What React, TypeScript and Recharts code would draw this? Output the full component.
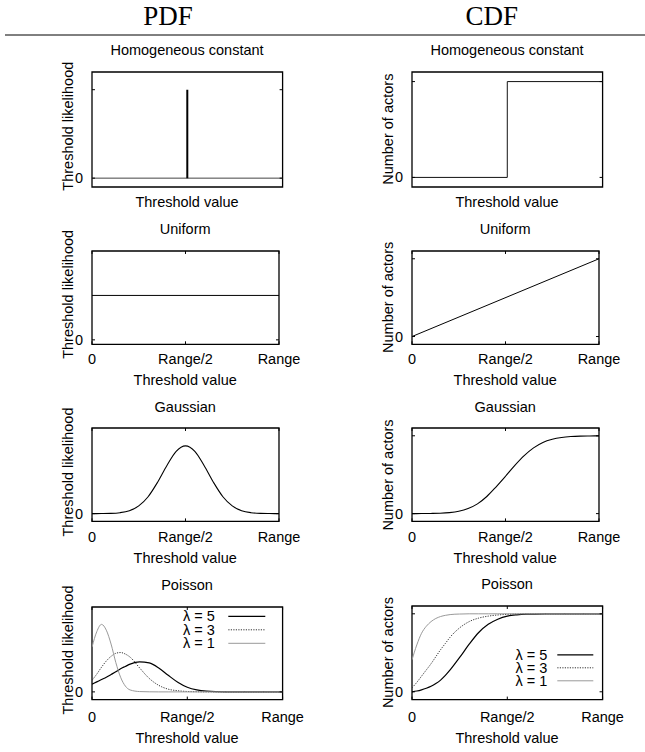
import React from 'react';
import { LineChart, Line, XAxis, YAxis, ReferenceArea, Legend } from 'recharts';

// ---------- data ----------
const stepX = [0, 0.5, 0.5, 1];
const homogCdf = [0, 0, 1, 1];
const spikeX = [0.5, 0.5];
const spikeY = [0, 1];
const baseX = [0, 1];
const baseY = [0, 0];

const uniformX = [0, 1];
const uniformPdf = [1, 1];
const uniformCdf = [0, 1];

const gridX = [0, 0.05, 0.1, 0.15, 0.2, 0.25, 0.3, 0.35, 0.4, 0.45, 0.5, 0.55, 0.6, 0.65, 0.7, 0.75, 0.8, 0.85, 0.9, 0.95, 1];
const gaussPdf = [0, 0.001, 0.003, 0.012, 0.038, 0.099, 0.217, 0.4, 0.615, 0.8, 0.87, 0.8, 0.615, 0.4, 0.217, 0.099, 0.038, 0.012, 0.003, 0.001, 0];
const gaussCdf = [0, 0.0005, 0.002, 0.005, 0.013, 0.03, 0.065, 0.125, 0.22, 0.345, 0.48, 0.62, 0.745, 0.845, 0.915, 0.955, 0.978, 0.99, 0.996, 0.998, 0.999];

const poissonX = [0, 0.025, 0.05, 0.075, 0.1, 0.125, 0.15, 0.175, 0.2, 0.25, 0.3, 0.35, 0.4, 0.45, 0.5, 0.55, 0.6, 0.7, 0.8, 0.9, 1];
const poissonPdf5 = [0.1, 0.13, 0.16, 0.19, 0.225, 0.26, 0.3, 0.33, 0.36, 0.39, 0.375, 0.31, 0.215, 0.125, 0.06, 0.025, 0.01, 0.001, 0, 0, 0];
const poissonPdf3 = [0.15, 0.23, 0.32, 0.4, 0.46, 0.5, 0.51, 0.49, 0.45, 0.31, 0.175, 0.085, 0.035, 0.015, 0.005, 0.002, 0, 0, 0, 0, 0];
const poissonPdf1 = [0.58, 0.78, 0.875, 0.8, 0.62, 0.38, 0.19, 0.075, 0.025, 0.004, 0.001, 0, 0, 0, 0, 0, 0, 0, 0, 0, 0];
const poissonCdf5 = [0, 0.01, 0.025, 0.045, 0.07, 0.105, 0.15, 0.21, 0.28, 0.44, 0.61, 0.76, 0.865, 0.93, 0.97, 0.987, 0.995, 0.999, 1, 1, 1];
const poissonCdf3 = [0.05, 0.12, 0.2, 0.28, 0.36, 0.45, 0.54, 0.62, 0.7, 0.82, 0.9, 0.945, 0.97, 0.985, 0.993, 0.997, 1, 1, 1, 1, 1];
const poissonCdf1 = [0.41, 0.6, 0.75, 0.84, 0.9, 0.94, 0.965, 0.98, 0.99, 0.997, 1, 1, 1, 1, 1, 1, 1, 1, 1, 1, 1];

const lambdaNames = ['λ = 5', 'λ = 3', 'λ = 1'];
const xTickValues = [0, 0.5, 1];
const xTickLabels = ['0', 'Range/2', 'Range'];
const headers = ['PDF', 'CDF'];
const titles = ['Homogeneous constant', 'Uniform', 'Gaussian', 'Poisson'];
const yTitles = ['Threshold likelihood', 'Number of actors'];
const xTitle = 'Threshold value';

const zip = (xs: number[], ys: number[]) => xs.map((x, i) => ({ x, y: ys[i] }));

// ---------- styles / layout ----------
const SANS = '"Liberation Sans", Arial, Helvetica, sans-serif';
const SERIF = '"Liberation Serif", "Times New Roman", serif';
const FS = 14.5;
const ML = 40, MT = 12, MR = 36, MB = 40;

type Series = { name?: string; data: { x: number; y: number }[]; stroke: string; width: number; dash?: string; curve: 'monotone' | 'linear' };
type LegendCfg = { textRight: number; lineX1: number; lineX2: number; rows: number[] };
type PanelCfg = {
  title: string; yTitle: string; left: number; top: number; w: number; h: number;
  yDomain: [number, number]; yTicks: number[]; xTicks: boolean;
  tickDy: number; titleDy: number; yTitleShift: number; yTitleX: number;
  series: Series[]; legend?: LegendCfg;
};

const solid5 = { stroke: '#000', width: 1.2, dash: undefined as string | undefined };
const dot3 = { stroke: '#333', width: 1, dash: '1.2 1.3' };
const gray1 = { stroke: '#999', width: 1, dash: undefined as string | undefined };
const lambdaStyles = [solid5, dot3, gray1];

const colL = 91.7, colR = 411.7;

const panels: PanelCfg[] = [
  {
    title: titles[0], yTitle: yTitles[0], left: colL, top: 71.7, w: 190.6, h: 115,
    yDomain: [-0.1, 1.2], yTicks: [0, 1], xTicks: false, tickDy: 0, titleDy: 20, yTitleShift: -3, yTitleX: 68.3,
    series: [
      { data: zip(baseX, baseY), stroke: '#444', width: 1, curve: 'linear' },
      { data: zip(spikeX, spikeY), stroke: '#000', width: 2, curve: 'linear' },
    ],
  },
  {
    title: titles[0], yTitle: yTitles[1], left: colR, top: 71.7, w: 190.6, h: 115,
    yDomain: [-0.1, 1.1], yTicks: [0, 1], xTicks: false, tickDy: 0, titleDy: 20, yTitleShift: 0, yTitleX: 388.3,
    series: [{ data: zip(stepX, homogCdf), stroke: '#111', width: 1, curve: 'linear' }],
  },
  {
    title: titles[1], yTitle: yTitles[0], left: colL, top: 250.7, w: 187, h: 93.3,
    yDomain: [-0.1, 2], yTicks: [0], xTicks: true, tickDy: 19.5, titleDy: 41, yTitleShift: -3, yTitleX: 68.3,
    series: [{ data: zip(uniformX, uniformPdf), stroke: '#000', width: 1, curve: 'linear' }],
  },
  {
    title: titles[1], yTitle: yTitles[1], left: colR, top: 250.7, w: 187, h: 93.3,
    yDomain: [-0.1, 1.1], yTicks: [0, 1], xTicks: true, tickDy: 19.5, titleDy: 41, yTitleShift: 0, yTitleX: 388.3,
    series: [{ data: zip(uniformX, uniformCdf), stroke: '#000', width: 1, curve: 'linear' }],
  },
  {
    title: titles[2], yTitle: yTitles[0], left: colL, top: 428.3, w: 187, h: 93.4,
    yDomain: [-0.1, 1.1], yTicks: [0], xTicks: true, tickDy: 20.5, titleDy: 41.5, yTitleShift: -3, yTitleX: 68.3,
    series: [{ data: zip(gridX, gaussPdf), stroke: '#000', width: 1.1, curve: 'monotone' }],
  },
  {
    title: titles[2], yTitle: yTitles[1], left: colR, top: 428.3, w: 187, h: 93.4,
    yDomain: [-0.1, 1.1], yTicks: [0, 1], xTicks: true, tickDy: 20.5, titleDy: 41.5, yTitleShift: 0, yTitleX: 388.3,
    series: [{ data: zip(gridX, gaussCdf), stroke: '#000', width: 1.1, curve: 'monotone' }],
  },
  {
    title: titles[3], yTitle: yTitles[0], left: colL, top: 606.7, w: 190.6, h: 92.6,
    yDomain: [-0.1, 1.1], yTicks: [0], xTicks: true, tickDy: 22, titleDy: 43.5, yTitleShift: -3, yTitleX: 68.3,
    series: [poissonPdf5, poissonPdf3, poissonPdf1].map((ys, i) => ({
      name: lambdaNames[i], data: zip(poissonX, ys), stroke: lambdaStyles[i].stroke, width: lambdaStyles[i].width, dash: lambdaStyles[i].dash, curve: 'monotone' as const,
    })),
    legend: { textRight: 122.8, lineX1: 136.3, lineX2: 173.3, rows: [9.3, 22.8, 36.3] },
  },
  {
    title: titles[3], yTitle: yTitles[1], left: colR, top: 605.7, w: 190.6, h: 93.6,
    yDomain: [-0.1, 1.1], yTicks: [0, 1], xTicks: true, tickDy: 22, titleDy: 43.5, yTitleShift: 0, yTitleX: 388.3,
    series: [poissonCdf5, poissonCdf3, poissonCdf1].map((ys, i) => ({
      name: lambdaNames[i], data: zip(poissonX, ys), stroke: lambdaStyles[i].stroke, width: lambdaStyles[i].width, dash: lambdaStyles[i].dash, curve: 'monotone' as const,
    })),
    legend: { textRight: 135.3, lineX1: 145.3, lineX2: 181.3, rows: [48.8, 61.8, 74.8] },
  },
];

const TICK = 3;

function makeYTick(plotW: number) {
  return (p: any) => {
    const { x, y, payload } = p;
    return (
      <g>
        <line x1={x} y1={y} x2={x + TICK} y2={y} stroke="#000" strokeWidth={1} />
        <line x1={x + plotW} y1={y} x2={x + plotW - TICK} y2={y} stroke="#000" strokeWidth={1} />
        {payload.value === 0 ? (
          <text x={x - 9} y={y} dy="0.35em" textAnchor="end" fontFamily={SANS} fontSize={FS} fill="#000">0</text>
        ) : null}
      </g>
    );
  };
}

function makeXTick(plotH: number, tickDy: number) {
  return (p: any) => {
    const { x, y, payload } = p;
    const idx = xTickValues.indexOf(payload.value);
    return (
      <g>
        <line x1={x} y1={y} x2={x} y2={y - TICK} stroke="#000" strokeWidth={1} />
        <line x1={x} y1={y - plotH} x2={x} y2={y - plotH + TICK} stroke="#000" strokeWidth={1} />
        <text x={x} y={y + tickDy} textAnchor="middle" fontFamily={SANS} fontSize={FS} fill="#000">{xTickLabels[idx]}</text>
      </g>
    );
  };
}

function makeLegend(p: PanelCfg, W: number, H: number) {
  const lg = p.legend as LegendCfg;
  return () => (
    <svg width={W} height={H} style={{ display: 'block' }}>
      <text textAnchor="end" fontFamily={SANS} fontSize={FS} fill="#000">
        {p.series.map((s, i) => (
          <tspan key={i} x={ML + lg.textRight} y={MT + lg.rows[i] + FS * 0.35}>{s.name}</tspan>
        ))}
      </text>
      {p.series.map((s, i) => {
        const cy = MT + lg.rows[i];
        return (
          <line key={i} x1={ML + lg.lineX1} x2={ML + lg.lineX2} y1={cy} y2={cy} stroke={s.stroke} strokeWidth={s.width} strokeDasharray={s.dash} />
        );
      })}
    </svg>
  );
}

function Panel({ p }: { p: PanelCfg }) {
  const W = p.w + ML + MR;
  const H = p.h + MT + MB;
  return (
    <div style={{ position: 'absolute', left: p.left - ML, top: p.top - MT, width: W, height: H }}>
      <LineChart width={W} height={H} margin={{ top: MT, right: MR, left: 0, bottom: 0 }}>
        <XAxis
          dataKey="x" type="number" domain={[0, 1]} allowDataOverflow ticks={xTickValues} interval={0}
          height={MB} axisLine={false} tickLine={false} tickSize={0} tickMargin={0}
          tick={p.xTicks ? makeXTick(p.h, p.tickDy) : false}
        />
        <YAxis
          type="number" domain={p.yDomain} allowDataOverflow ticks={p.yTicks} interval={0}
          width={ML} axisLine={false} tickLine={false} tickSize={0} tickMargin={0}
          tick={makeYTick(p.w)}
        />
        <ReferenceArea x1={0} x2={1} y1={p.yDomain[0]} y2={p.yDomain[1]} fill="none" fillOpacity={0} stroke="#000" strokeWidth={1.3} />
        {p.series.map((s, i) => (
          <Line
            key={i} name={s.name} data={s.data} dataKey="y" type={s.curve} stroke={s.stroke}
            strokeWidth={s.width} strokeDasharray={s.dash} dot={false} activeDot={false}
            isAnimationActive={false}
          />
        ))}
        {p.legend ? (
          <Legend
            layout="vertical" verticalAlign="middle" align="center"
            wrapperStyle={{ position: 'absolute', left: 0, top: 0, width: W, height: H, margin: 0, padding: 0 }}
            content={makeLegend(p, W, H)}
          />
        ) : null}
      </LineChart>
    </div>
  );
}

export default function App() {
  return (
    <div style={{ position: 'absolute', left: 0, top: 0, width: 645, height: 752, background: '#fff', overflow: 'hidden' }}>
      {panels.map((p, i) => <Panel key={i} p={p} />)}
      <svg width={645} height={752} style={{ position: 'absolute', left: 0, top: 0, pointerEvents: 'none' }}>
        <text x={168} y={25} textAnchor="middle" fontFamily={SERIF} fontSize={27} fill="#000">{headers[0]}</text>
        <text x={491.7} y={25} textAnchor="middle" fontFamily={SERIF} fontSize={27} fill="#000">{headers[1]}</text>
        <line x1={5} x2={645} y1={35} y2={35} stroke="#000" strokeWidth={1} />
        {panels.map((p, i) => {
          const cx = p.left + p.w / 2;
          const cy = p.top + p.h / 2 + p.yTitleShift;
          return (
            <g key={i} fontFamily={SANS} fontSize={FS} fill="#000">
              <text x={cx} y={p.top - 16.5} textAnchor="middle">{p.title}</text>
              <text x={cx} y={p.top + p.h + p.titleDy} textAnchor="middle">{xTitle}</text>
              <text x={p.yTitleX} y={cy} dy="0.35em" textAnchor="middle" transform={`rotate(-90 ${p.yTitleX} ${cy})`}>{p.yTitle}</text>
            </g>
          );
        })}
      </svg>
    </div>
  );
}
